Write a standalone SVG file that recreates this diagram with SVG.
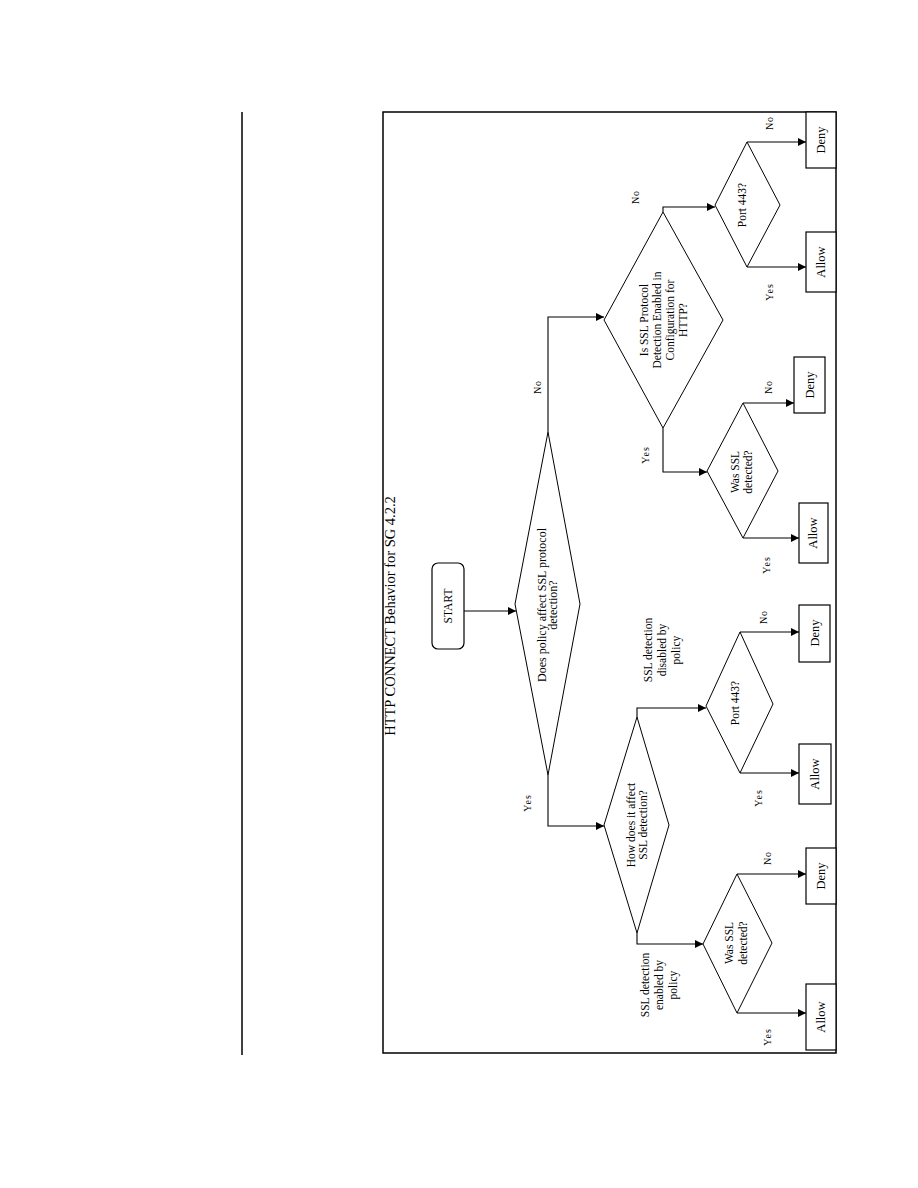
<svg xmlns="http://www.w3.org/2000/svg" width="918" height="1188" viewBox="0 0 918 1188">
<defs>
<marker id="arr" markerUnits="userSpaceOnUse" markerWidth="9" markerHeight="8" refX="8" refY="4" orient="auto">
<path d="M0,0 L8,4 L0,8 z" fill="#000"/>
</marker>
<style>
.shape{fill:#fff;stroke:#000;stroke-width:1}
.box{fill:#fff;stroke:#000;stroke-width:1.2}
.conn{fill:none;stroke:#000;stroke-width:1.1;marker-end:url(#arr)}
text{font-family:"Liberation Serif","Times New Roman",serif;fill:#000;text-anchor:middle;dominant-baseline:central}
.t{font-size:11.5px}
.big{font-size:12px}
.d{font-size:11.5px}
.lbl{font-size:10px;letter-spacing:1px}
.bx{font-size:12.5px}
.title{font-size:14.5px}
</style>
</defs>
<rect width="918" height="1188" fill="#fff"/>
<line x1="242" y1="112" x2="242" y2="1055" stroke="#000" stroke-width="1.5"/>
<rect x="383" y="112" width="453" height="941" fill="none" stroke="#000" stroke-width="1.5"/>
<text class="title" transform="translate(390,616) rotate(-90)">HTTP CONNECT Behavior for SG 4.2.2</text>

<g id="connectors">
<path class="conn" d="M464,611 L516,611"/>
<path class="conn" d="M548,432 L548,317 L604,317"/>
<path class="conn" d="M548,775 L548,826 L604,826"/>
<path class="conn" d="M663,212 L663,207 L715,207"/>
<path class="conn" d="M663,428 L663,472 L707,472"/>
<path class="conn" d="M747,142 L806,142"/>
<path class="conn" d="M747,267 L806,267"/>
<path class="conn" d="M743,403 L794,403"/>
<path class="conn" d="M743,538 L799,538"/>
<path class="conn" d="M637,717 L637,708 L706,708"/>
<path class="conn" d="M637,933 L637,944 L703,944"/>
<path class="conn" d="M740,632 L799,632"/>
<path class="conn" d="M740,773 L799,773"/>
<path class="conn" d="M737,874 L806,874"/>
<path class="conn" d="M737,1013 L806,1013"/>
<text class="lbl" transform="translate(537,387) rotate(-90)">No</text>
<text class="lbl" transform="translate(527,803) rotate(-90)">Yes</text>
<text class="lbl" transform="translate(635,197) rotate(-90)">No</text>
<text class="lbl" transform="translate(645,455) rotate(-90)">Yes</text>
<text class="lbl" transform="translate(769,123) rotate(-90)">No</text>
<text class="lbl" transform="translate(769,292) rotate(-90)">Yes</text>
<text class="lbl" transform="translate(768,387) rotate(-90)">No</text>
<text class="lbl" transform="translate(766,565) rotate(-90)">Yes</text>
<text class="lbl" transform="translate(763,617) rotate(-90)">No</text>
<text class="lbl" transform="translate(758,798) rotate(-90)">Yes</text>
<text class="lbl" transform="translate(767,858) rotate(-90)">No</text>
<text class="lbl" transform="translate(767,1037) rotate(-90)">Yes</text>
<text class="t" transform="translate(662,650) rotate(-90)"><tspan x="0" y="-14">SSL detection</tspan><tspan x="0" y="0">disabled by</tspan><tspan x="0" y="14">policy</tspan></text>
<text class="t" transform="translate(659,985) rotate(-90)"><tspan x="0" y="-14">SSL detection</tspan><tspan x="0" y="0">enabled by</tspan><tspan x="0" y="14">policy</tspan></text>
</g>

<g id="start">
<rect class="box" x="432" y="563" width="32" height="86" rx="6"/>
<text class="t" transform="translate(448,606) rotate(-90)">START</text>
</g>

<g id="policy-affect">
<polygon class="shape" points="548,432 580,604 548,775 515,604"/>
<text class="big" transform="translate(547.5,605) rotate(-90)"><tspan x="0" y="-5.5">Does  policy affect SSL protocol</tspan><tspan x="0" y="5.5">detection?</tspan></text>
</g>

<g id="ssl-config">
<polygon class="shape" points="663,212 723,320 663,428 604,320"/>
<text class="d" transform="translate(663,320) rotate(-90)"><tspan x="0" y="-19.5">Is SSL Protocol</tspan><tspan x="0" y="-6.5">Detection Enabled in</tspan><tspan x="0" y="6.5">Configuration for</tspan><tspan x="0" y="19.5">HTTP?</tspan></text>
</g>

<g id="port443-a">
<polygon class="shape" points="747,142 780,205 747,267 715,205"/>
<text class="t" transform="translate(742,205) rotate(-90)">Port 443?</text>
</g>
<g id="deny-a"><rect class="box" x="806" y="112" width="30" height="56"/><text class="bx" transform="translate(821,140) rotate(-90)">Deny</text></g>
<g id="allow-a"><rect class="box" x="806" y="232" width="30" height="60"/><text class="bx" transform="translate(821,262) rotate(-90)">Allow</text></g>

<g id="was-ssl-a">
<polygon class="shape" points="743,403 778,471 743,538 707,471"/>
<text class="t" transform="translate(741.5,472) rotate(-90)"><tspan x="0" y="-6.5">Was  SSL</tspan><tspan x="0" y="6.5">detected?</tspan></text>
</g>
<g id="deny-b"><rect class="box" x="794" y="357" width="31" height="56"/><text class="bx" transform="translate(810,385) rotate(-90)">Deny</text></g>
<g id="allow-b"><rect class="box" x="799" y="503" width="29" height="60"/><text class="bx" transform="translate(813,533) rotate(-90)">Allow</text></g>

<g id="how-affect">
<polygon class="shape" points="637,717 669,825 637,933 604,825"/>
<text class="t" transform="translate(637,825) rotate(-90)"><tspan x="0" y="-6">How does it affect</tspan><tspan x="0" y="6">SSL detection?</tspan></text>
</g>

<g id="port443-b">
<polygon class="shape" points="740,632 773,704 740,773 706,706"/>
<text class="t" transform="translate(735,703) rotate(-90)">Port 443?</text>
</g>
<g id="deny-c"><rect class="box" x="799" y="605" width="31" height="57"/><text class="bx" transform="translate(815,633) rotate(-90)">Deny</text></g>
<g id="allow-c"><rect class="box" x="799" y="744" width="32" height="60"/><text class="bx" transform="translate(815,774) rotate(-90)">Allow</text></g>

<g id="was-ssl-b">
<polygon class="shape" points="737,874 772,943 737,1013 703,944"/>
<text class="t" transform="translate(735.5,943) rotate(-90)"><tspan x="0" y="-7">Was  SSL</tspan><tspan x="0" y="7">detected?</tspan></text>
</g>
<g id="deny-d"><rect class="box" x="806" y="848" width="30" height="56"/><text class="bx" transform="translate(821,876) rotate(-90)">Deny</text></g>
<g id="allow-d"><rect class="box" x="806" y="984" width="30" height="66"/><text class="bx" transform="translate(821,1017) rotate(-90)">Allow</text></g>
</svg>
